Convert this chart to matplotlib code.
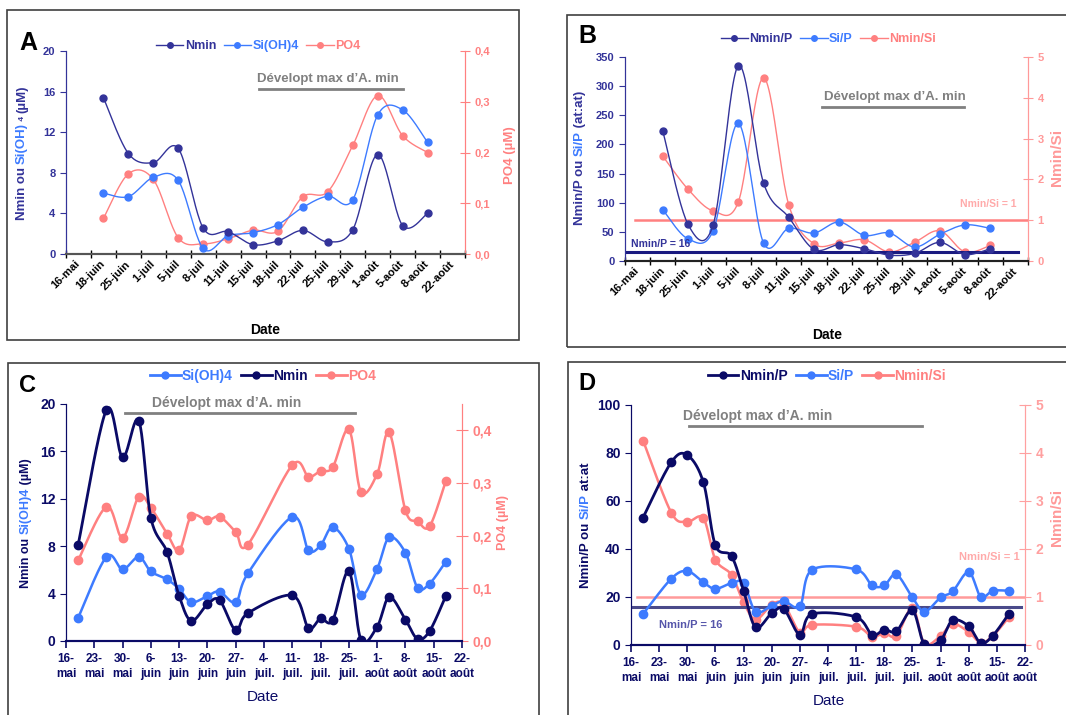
import numpy as np
import matplotlib
matplotlib.use("Agg")
import matplotlib.pyplot as plt
from matplotlib.lines import Line2D
from matplotlib.patches import Rectangle

plt.rcParams['font.family'] = ['Liberation Sans', 'DejaVu Sans']
plt.rcParams['font.weight'] = 'bold'

W, H = 1066, 715

NAVY = '#333399'
DNAVY = '#0a0a66'
BLUE = '#3d7bff'
SALMON = '#ff8080'
GREY = '#808080'

# --- A / B : campagne (axe par catégories) ---
cats_ab = ['16-mai', '18-juin', '25-juin', '1-juil', '5-juil', '8-juil', '11-juil',
           '15-juil', '18-juil', '22-juil', '25-juil', '29-juil', '1-août',
           '5-août', '8-août', '22-août']
idx_ab = list(range(1, 15))

nmin_a = [15.4, 9.9, 9.0, 10.4, 2.56, 2.2, 0.92, 1.3, 2.33, 1.2, 2.4, 9.8, 2.8, 4.0]
si_a = [6.0, 5.65, 7.55, 7.25, 0.55, 1.8, 2.1, 2.9, 4.6, 5.7, 5.35, 13.7, 14.2, 11.0]
po4_a = [0.070, 0.158, 0.147, 0.032, 0.020, 0.030, 0.047, 0.045, 0.113, 0.123,
         0.214, 0.312, 0.233, 0.200]

nminp_b = [223, 63, 62, 335, 134, 75, 20, 28, 21, 10, 13, 32, 11, 21]
sip_b = [88, 38, 52, 236, 31, 56, 48, 67, 44, 48, 24, 46, 62, 56]
nminsi_b = [2.57, 1.76, 1.23, 1.45, 4.49, 1.38, 0.42, 0.44, 0.52, 0.22, 0.46,
            0.74, 0.22, 0.38]

# --- C / D : jours depuis le 16 mai ---
days_cd = [3, 10, 14, 18, 21, 25, 28, 31, 35, 38, 42, 45, 56, 60, 63, 66, 70,
           73, 77, 80, 84, 87, 90, 94]
week_labels = ['16-\nmai', '23-\nmai', '30-\nmai', '6-\njuin', '13-\njuin',
               '20-\njuin', '27-\njuin', '4-\njuil.', '11-\njuil.', '18-\njuil.',
               '25-\njuil.', '1-\naoût', '8-\naoût', '15-\naoût', '22-\naoût']

nmin_c = [8.1, 19.5, 15.5, 18.6, 10.4, 7.5, 3.8, 1.7, 3.1, 3.45, 0.9, 2.35,
          3.85, 1.1, 1.9, 1.75, 5.9, 0.1, 1.2, 3.7, 1.8, 0.17, 0.85, 3.8]
si_c = [1.95, 7.1, 6.05, 7.1, 5.87, 5.2, 4.4, 3.27, 3.8, 4.17, 3.27, 5.7,
        10.47, 7.67, 8.07, 9.6, 7.8, 3.9, 6.1, 8.75, 7.45, 4.5, 4.85, 6.7]
po4_c = [0.153, 0.255, 0.196, 0.274, 0.253, 0.204, 0.172, 0.237, 0.229, 0.236,
         0.207, 0.183, 0.334, 0.312, 0.323, 0.330, 0.402, 0.283, 0.317, 0.396,
         0.248, 0.227, 0.218, 0.304]

nminp_d = [53.1, 76.1, 79.1, 67.8, 41.5, 37.0, 22.6, 7.35, 13.3, 15.0, 4.3,
           12.9, 11.65, 4.2, 6.4, 5.7, 14.4, 0.3, 2.0, 10.3, 7.8, 0.8, 3.9, 13.0]
sip_d = [12.9, 27.6, 30.8, 26.1, 23.4, 25.8, 25.8, 13.9, 16.4, 18.3, 16.1,
         31.3, 31.5, 24.8, 24.8, 29.4, 19.8, 13.9, 19.8, 22.3, 30.4, 20.1,
         22.6, 22.6]
nminsi_d = [4.26, 2.76, 2.57, 2.64, 1.78, 1.46, 0.89, 0.53, 0.84, 0.85, 0.26,
            0.42, 0.38, 0.17, 0.25, 0.19, 0.77, 0.03, 0.19, 0.44, 0.27, 0.05,
            0.19, 0.58]


def px_rect(l, t, r, b):
    return [l / W, 1 - b / H, (r - l) / W, (b - t) / H]


def fx(x):
    return x / W


def fy(y):
    return 1 - y / H


def smooth(ax, x, y, n=24):
    # courbe lissée (Bézier type Catmull-Rom) calculée en pixels
    pts = ax.transData.transform(np.column_stack([x, y]))
    p = np.vstack([pts[0], pts, pts[-1]])
    t = np.linspace(0, 1, n)[:, None]
    out = []
    for i in range(1, len(p) - 2):
        p0, p1, p2, p3 = p[i - 1], p[i], p[i + 1], p[i + 2]
        c1 = p1 + (p2 - p0) / 6
        c2 = p2 - (p3 - p1) / 6
        seg = (1 - t) ** 3 * p1 + 3 * (1 - t) ** 2 * t * c1 + 3 * (1 - t) * t ** 2 * c2 + t ** 3 * p2
        out.append(seg if i == 1 else seg[1:])
    xy = ax.transData.inverted().transform(np.vstack(out))
    return xy[:, 0], xy[:, 1]


def series(ax, x, y, color, lw, ms):
    sx, sy = smooth(ax, x, y)
    ax.plot(sx, sy, color=color, lw=lw, solid_capstyle='round')
    ax.plot(x, y, 'o', color=color, ms=ms, mec=color)


def stacked_ylabel(fig, xpx, ycpx, parts, size):
    r = fig.canvas.get_renderer()
    texts = []
    for s, c, sz in parts:
        texts.append(fig.text(0, 0, s, color=c, fontsize=sz or size, rotation=90,
                              rotation_mode='anchor', ha='left', va='center'))
    hs = [t.get_window_extent(r).height for t in texts]
    y = (H - ycpx) - sum(hs) / 2
    for t, h in zip(texts, hs):
        t.set_position((xpx / W, y / H))
        y += h


def legend(fig, xc, yc, items, size, lw, ms):
    handles = [Line2D([], [], color=c, lw=lw, marker='o', ms=ms) for _, c in items]
    fig.legend(handles, [s for s, _ in items], loc='center', bbox_to_anchor=(fx(xc), fy(yc)),
               ncol=len(items), frameon=False, fontsize=size, handlelength=2.2,
               handletextpad=0.1, columnspacing=0.6, borderpad=0,
               labelcolor=[c for _, c in items])


def devel(fig, xc, yc, x0, x1, yl, size):
    fig.text(fx(xc), fy(yc), 'Dévelopt max d’A. min', color=GREY, fontsize=size,
             ha='center', va='center')
    fig.add_artist(Line2D([fx(x0), fx(x1)], [fy(yl), fy(yl)], color=GREY, lw=2))


fig = plt.figure(figsize=(W / 100, H / 100), dpi=100)

# cadres des quatre panneaux
for l, t, r, b in [(7, 10, 519, 340), (567, 15, 1075, 347), (8, 363, 539, 725), (568, 362, 1075, 725)]:
    fig.add_artist(Rectangle((fx(l), fy(b)), (r - l) / W, (b - t) / H, transform=fig.transFigure,
                             fill=False, ec='#404040', lw=1.2))


def setup_cat_axes(ax, ax2, left_color, right_color, tick_size):
    ax.set_xlim(-0.5, len(cats_ab) - 0.5)
    ax.set_xticks(range(len(cats_ab)))
    ax.set_xticklabels(cats_ab, rotation=45, ha='right', va='center',
                       rotation_mode='anchor', fontsize=8, color='black')
    ax.set_xticks(np.arange(-0.5, len(cats_ab) - 0.4, 1), minor=True)
    ax.tick_params(axis='x', which='major', length=0, pad=6)
    ax.tick_params(axis='x', which='minor', length=6, direction='inout', color='black', width=1)
    ax.tick_params(axis='y', colors=left_color, labelsize=tick_size, direction='out', length=4)
    ax2.tick_params(axis='y', colors=right_color, labelsize=tick_size, direction='inout', length=7)
    for a in (ax, ax2):
        a.spines['top'].set_visible(False)
        a.spines['left'].set_color(left_color)
        a.spines['right'].set_color(right_color)
        a.spines['bottom'].set_color('#555555')
        a.spines['bottom'].set_linewidth(1.5)


def setup_date_axes(ax, ax2, left_color, right_color):
    ax.set_xlim(0, 98)
    ax.set_xticks(range(0, 99, 7))
    ax.set_xticklabels(week_labels, fontsize=8.5, color=DNAVY, linespacing=1.25)
    ax.tick_params(axis='x', length=5, direction='out', color=DNAVY, width=1.2, pad=4)
    ax.tick_params(axis='y', colors=left_color, labelsize=10, direction='out', length=4)
    ax2.tick_params(axis='y', colors=right_color, labelsize=10, direction='inout', length=8)
    for a in (ax, ax2):
        a.spines['top'].set_visible(False)
        a.spines['left'].set_color(left_color)
        a.spines['right'].set_color(right_color)
        a.spines['bottom'].set_color(DNAVY)
        a.spines['bottom'].set_linewidth(1.5)


comma = matplotlib.ticker.FuncFormatter(lambda v, p: f'{v:.1f}'.replace('.', ','))

# ---------------- A ----------------
axA = fig.add_axes(px_rect(66, 51, 465, 254))
axA2 = axA.twinx()
axA.set_ylim(0, 20)
axA.set_yticks(range(0, 21, 4))
axA2.set_ylim(0, 0.4)
axA2.set_yticks(np.arange(0, 0.41, 0.1))
axA2.yaxis.set_major_formatter(comma)
setup_cat_axes(axA, axA2, NAVY, SALMON, 8)
series(axA2, idx_ab, po4_a, SALMON, 1.0, 5)
series(axA, idx_ab, si_a, BLUE, 1.0, 5)
series(axA, idx_ab, nmin_a, NAVY, 1.0, 5)
axA.set_zorder(axA2.get_zorder() + 1)
axA.patch.set_visible(False)
fig.text(fx(265), fy(330), 'Date', fontsize=10, ha='center', va='center')
fig.text(fx(28), fy(43), 'A', fontsize=18, ha='center', va='center')
legend(fig, 258, 46, [('Nmin', NAVY), ('Si(OH)4', BLUE), ('PO4', SALMON)], 9, 1.0, 4)
devel(fig, 328, 79, 259, 403, 89, 9.5)
stacked_ylabel(fig, 22, 153, [('Nmin ou ', NAVY, None), ('Si(OH)', BLUE, None),
                              (' 4 ', NAVY, 6), ('(µM)', NAVY, None)], 9.5)
fig.text(fx(510), fy(155), 'PO4 (µM)', color=SALMON, fontsize=9.5, rotation=90,
         ha='center', va='center')

# ---------------- B ----------------
axB = fig.add_axes(px_rect(625, 57, 1028, 261))
axB2 = axB.twinx()
axB.set_ylim(0, 350)
axB.set_yticks(range(0, 351, 50))
axB2.set_ylim(0, 5)
axB2.set_yticks(range(0, 6))
setup_cat_axes(axB, axB2, NAVY, '#ff9999', 8)
axB.spines['bottom'].set_color('#222222')
axB2.axhline(1, xmin=0.025, xmax=1, color=SALMON, lw=1.8)
axB.axhline(16, xmin=0, xmax=0.975, color='#1a1a80', lw=2.2)
series(axB2, idx_ab, nminsi_b, SALMON, 1.0, 5)
series(axB, idx_ab, sip_b, BLUE, 1.0, 5)
series(axB, idx_ab, nminp_b, NAVY, 1.0, 5)
axB.set_zorder(axB2.get_zorder() + 1)
axB.patch.set_visible(False)
fig.text(fx(661), fy(244), 'Nmin/P = 16', color=NAVY, fontsize=7.5, ha='center', va='center')
fig.text(fx(988), fy(204), 'Nmin/Si = 1', color='#ffaaaa', fontsize=7.5, ha='center', va='center')
fig.text(fx(827), fy(335), 'Date', fontsize=10, ha='center', va='center')
fig.text(fx(587), fy(36), 'B', fontsize=18, ha='center', va='center')
legend(fig, 828, 39, [('Nmin/P', NAVY), ('Si/P', BLUE), ('Nmin/Si', SALMON)], 9, 1.0, 4)
devel(fig, 895, 97, 822, 964, 107, 9.5)
stacked_ylabel(fig, 580, 158, [('Nmin/P ou ', NAVY, None), ('Si/P', BLUE, None),
                               (' (at:at)', NAVY, None)], 9.5)
fig.text(fx(1057), fy(157), 'Nmin/Si', color='#ff9999', fontsize=11, rotation=90,
         ha='center', va='center')

# ---------------- C ----------------
axC = fig.add_axes(px_rect(66, 404, 462, 641))
axC2 = axC.twinx()
axC.set_ylim(0, 20)
axC.set_yticks(range(0, 21, 4))
axC2.set_ylim(0, 0.45)
axC2.set_yticks(np.arange(0, 0.41, 0.1))
axC2.yaxis.set_major_formatter(comma)
setup_date_axes(axC, axC2, DNAVY, SALMON)
series(axC2, days_cd, po4_c, SALMON, 1.8, 6)
series(axC, days_cd, si_c, BLUE, 1.8, 6)
series(axC, days_cd, nmin_c, DNAVY, 2.0, 6)
axC.set_zorder(axC2.get_zorder() + 1)
axC.patch.set_visible(False)
fig.text(fx(263), fy(697), 'Date', color=DNAVY, fontsize=11, weight='normal', ha='center', va='center')
fig.text(fx(27), fy(385), 'C', fontsize=17, ha='center', va='center')
legend(fig, 263, 376, [('Si(OH)4', BLUE), ('Nmin', DNAVY), ('PO4', SALMON)], 10, 2.0, 5)
devel(fig, 227, 403, 125, 355, 413, 10)
stacked_ylabel(fig, 26, 523, [('Nmin ou ', DNAVY, None), ('Si(OH)4', BLUE, None),
                              (' (µM)', DNAVY, None)], 9)
fig.text(fx(503), fy(522), 'PO4 (µM)', color=SALMON, fontsize=9, rotation=90,
         ha='center', va='center')

# ---------------- D ----------------
axD = fig.add_axes(px_rect(631, 405, 1025, 645))
axD2 = axD.twinx()
axD.set_ylim(0, 100)
axD.set_yticks(range(0, 101, 20))
axD2.set_ylim(0, 5)
axD2.set_yticks(range(0, 6))
setup_date_axes(axD, axD2, DNAVY, '#ffa0a0')
axD2.axhline(1, xmin=0.015, xmax=1, color='#ff9a9a', lw=1.8)
axD.axhline(16, xmin=0, xmax=0.99, color='#4a4a8a', lw=2.2)
series(axD2, days_cd, nminsi_d, SALMON, 1.8, 6)
series(axD, days_cd, sip_d, BLUE, 1.8, 6)
series(axD, days_cd, nminp_d, DNAVY, 2.0, 6)
axD.set_zorder(axD2.get_zorder() + 1)
axD.patch.set_visible(False)
fig.text(fx(691), fy(625), 'Nmin/P = 16', color='#5555aa', fontsize=8, ha='center', va='center')
fig.text(fx(989), fy(557), 'Nmin/Si = 1', color='#ffaaaa', fontsize=8, ha='center', va='center')
fig.text(fx(829), fy(701), 'Date', color=DNAVY, fontsize=11, weight='normal', ha='center', va='center')
fig.text(fx(587), fy(384), 'D', fontsize=17, ha='center', va='center')
legend(fig, 827, 376, [('Nmin/P', DNAVY), ('Si/P', BLUE), ('Nmin/Si', SALMON)], 10, 2.0, 5)
devel(fig, 758, 416, 689, 922, 426, 10)
stacked_ylabel(fig, 586, 525, [('Nmin/P ou ', DNAVY, None), ('Si/P', BLUE, None),
                               (' at:at', DNAVY, None)], 9.5)
fig.text(fx(1057), fy(517), 'Nmin/Si', color='#ff9999', fontsize=11, rotation=90,
         ha='center', va='center')

fig.savefig('out.png', dpi=100)
